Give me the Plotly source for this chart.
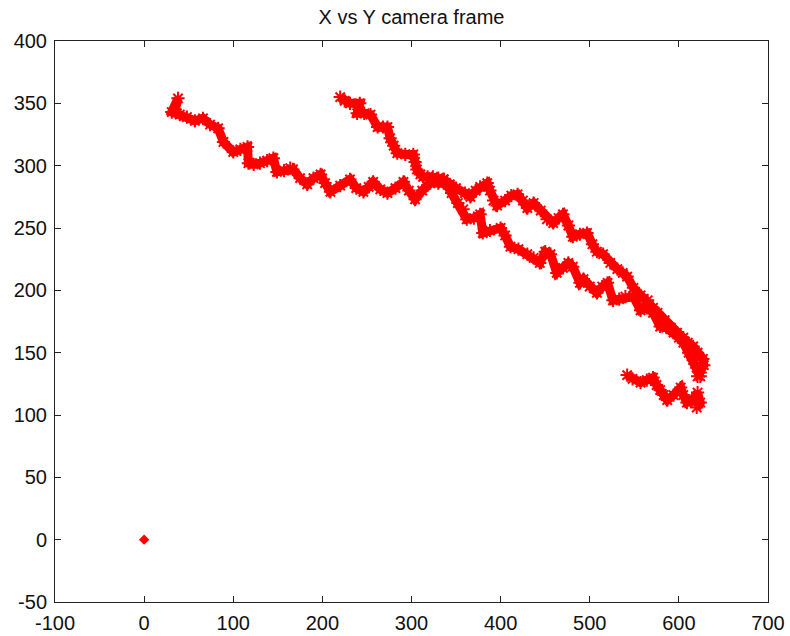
import plotly.graph_objects as go

# ---- data ----
origin_x = [0]
origin_y = [0]

trackA_x = [35, 38, 31, 40, 48, 57, 66, 74, 83, 89, 100, 108, 116, 117, 123, 130, 138, 145, 149, 157,
            164, 167, 175, 183, 190, 198, 203, 209, 220, 231, 238, 246, 252, 257, 265, 273, 282, 291,
            297, 304, 312, 321, 330, 336]
trackA_y = [345, 354, 343, 341, 339, 336, 338, 333, 330, 319, 311, 313, 315, 302, 301, 302, 304, 306,
            295, 296, 298, 297, 290, 285, 290, 293, 286, 279, 284, 289, 282, 279, 283, 287, 281, 278,
            282, 287, 280, 273, 280, 286, 286, 286]

trackB_x = [220, 225, 231, 242, 239, 247, 254, 262, 268, 273, 276, 280, 284, 293, 302, 304, 306, 310,
            313, 318, 324, 330, 336]
trackB_y = [355, 352, 350, 350, 342, 342, 341, 331, 331, 331, 322, 316, 310, 309, 309, 303, 297, 293,
            291, 291, 291, 290, 289]

upper_x = [336, 343, 350, 360, 366, 372, 377, 385, 388, 392, 396, 405, 412, 419, 425, 430, 437, 445,
           452, 459, 465, 470, 476, 481, 489, 497, 503, 508, 515, 523, 531, 537, 542, 549, 557, 565,
           571, 576, 584, 591, 598, 605, 610, 616, 621, 627, 628, 624, 621]
upper_y = [289, 285, 282, 278, 275, 280, 283, 286, 280, 272, 268, 272, 276, 277, 272, 266, 270, 264,
           257, 254, 258, 261, 252, 243, 245, 246, 237, 231, 229, 222, 217, 214, 211, 202, 196, 192,
           186, 182, 176, 170, 166, 162, 158, 155, 150, 145, 140, 134, 131]

lower_x = [336, 345, 352, 358, 362, 370, 377, 380, 388, 400, 405, 411, 420, 430, 437, 444, 450, 456,
           463, 470, 476, 481, 489, 493, 500, 508, 514, 520, 526, 533, 540, 549, 557, 564, 571, 579,
           586, 594, 600, 605, 611, 616, 620, 624]
lower_y = [289, 278, 270, 265, 257, 258, 261, 246, 248, 250, 244, 235, 233, 229, 226, 222, 231, 229,
           214, 218, 222, 219, 206, 209, 203, 198, 203, 206, 192, 193, 195, 195, 184, 186, 182, 171,
           170, 166, 162, 158, 150, 144, 138, 131]

bottom_x = [542, 548, 557, 564, 571, 575, 579, 583, 587, 594, 602, 605, 609, 615, 621, 624, 620]
bottom_y = [132, 129, 126, 128, 130, 124, 120, 116, 112, 116, 122, 116, 110, 112, 118, 110, 106]

x_ticks = [-100, 0, 100, 200, 300, 400, 500, 600, 700]
y_ticks = [-50, 0, 50, 100, 150, 200, 250, 300, 350, 400]

RED = "#ff0000"
FONT = "Liberation Sans, Arial, sans-serif"

fig = go.Figure()
for xs, ys in [(trackA_x, trackA_y), (trackB_x, trackB_y), (upper_x, upper_y),
               (lower_x, lower_y), (bottom_x, bottom_y)]:
    fig.add_trace(go.Scatter(
        x=xs, y=ys, mode="lines+markers",
        line=dict(color=RED, width=9),
        marker=dict(symbol="asterisk-open", size=11, color=RED, line=dict(color=RED, width=2)),
        showlegend=False, hoverinfo="x+y"))

fig.add_trace(go.Scatter(
    x=origin_x, y=origin_y, mode="markers",
    marker=dict(symbol="diamond", size=8, color=RED),
    showlegend=False))

axis_common = dict(
    showline=True, linecolor="#222222", linewidth=1, mirror="ticks", automargin=False,
    ticks="inside", ticklen=6, tickcolor="#222222", showgrid=False, zeroline=False,
    tickfont=dict(family=FONT, size=20, color="#111111"),
)

fig.update_layout(
    width=790, height=636,
    margin=dict(l=55, r=22, t=41, b=34),
    paper_bgcolor="white", plot_bgcolor="white",
    title=dict(text="X vs Y camera frame", x=0.5, xref="paper", xanchor="center",
               y=1 - 16.5 / 636, yanchor="middle",
               font=dict(family=FONT, size=20, color="#111111")),
    xaxis=dict(range=[-100, 700], tickvals=x_ticks, ticktext=[str(v) for v in x_ticks],
               ticklabelstandoff=3, **axis_common),
    yaxis=dict(range=[-50, 400], tickvals=y_ticks, ticktext=[str(v) for v in y_ticks],
               ticklabelstandoff=3, **axis_common),
)

fig.write_html("out.html", config={"displayModeBar": False},
               post_script="document.body.style.margin='0';")
